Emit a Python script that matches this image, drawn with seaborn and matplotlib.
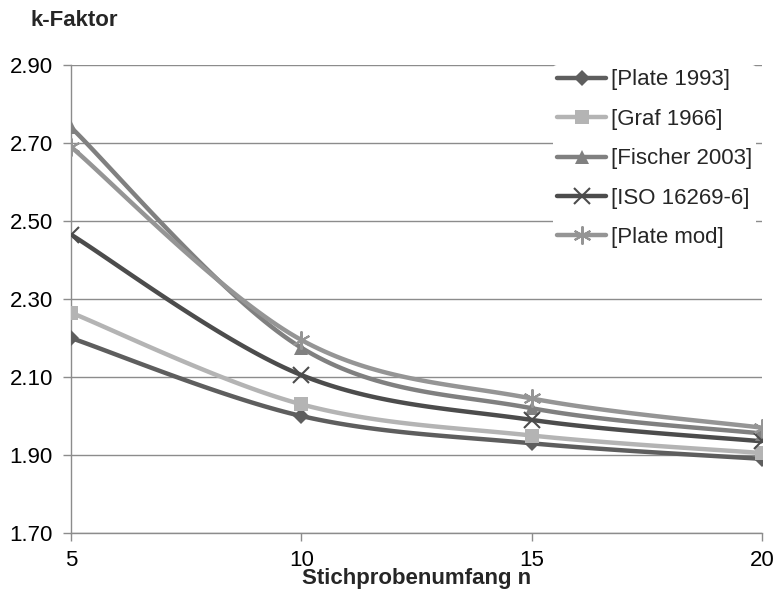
import numpy as np
import pandas as pd
import matplotlib
matplotlib.use("Agg")
import matplotlib.pyplot as plt
from matplotlib.lines import Line2D
import seaborn as sns

# Sample sizes and k-factors per source
n_values = [5, 10, 15, 20]
series_names = ["[Plate 1993]", "[Graf 1966]", "[Fischer 2003]", "[ISO 16269-6]", "[Plate mod]"]
plate_1993 = [2.20, 2.00, 1.93, 1.89]
graf_1966 = [2.265, 2.03, 1.95, 1.905]
fischer_2003 = [2.74, 2.175, 2.02, 1.955]
iso_16269_6 = [2.465, 2.105, 1.99, 1.935]
plate_mod = [2.69, 2.195, 2.045, 1.97]
y_ticks = [1.70, 1.90, 2.10, 2.30, 2.50, 2.70, 2.90]

values = [plate_1993, graf_1966, fischer_2003, iso_16269_6, plate_mod]
colors = ["#5e5e5e", "#b4b4b4", "#808080", "#4c4c4c", "#959595"]
markers = ["D", "s", "^", "x", (6, 2, 0)]
msizes = [8, 10, 10, 11, 13]

sns.set_theme(style="white")
plt.rcParams["font.family"] = ["Liberation Sans", "DejaVu Sans"]


def smooth_curve(xs, ys, steps=40):
    """Bezier smoothing through the points (Catmull-Rom style tangents)."""
    pts = np.column_stack([xs, ys]).astype(float)
    ext = np.vstack([pts[0], pts, pts[-1]])
    out = []
    for i in range(len(pts) - 1):
        p0, p1, p2, p3 = ext[i], ext[i + 1], ext[i + 2], ext[i + 3]
        c1 = p1 + (p2 - p0) / 6.0
        c2 = p2 - (p3 - p1) / 6.0
        t = np.linspace(0, 1, steps, endpoint=(i == len(pts) - 2))[:, None]
        seg = ((1 - t) ** 3) * p1 + 3 * ((1 - t) ** 2) * t * c1 + 3 * (1 - t) * t ** 2 * c2 + t ** 3 * p2
        out.append(seg)
    return np.vstack(out)


fig = plt.figure(figsize=(7.75, 5.92), dpi=100)
ax = fig.add_axes([71 / 775, 1 - 533 / 592, (762 - 71) / 775, (533 - 65) / 592])

grid_color = "#8c8c8c"
for yv in y_ticks:
    ax.axhline(yv, color=grid_color, lw=1.0, zorder=0)

for name, ys, col, mk, ms in zip(series_names, values, colors, markers, msizes):
    curve = smooth_curve(n_values, ys)
    cdf = pd.DataFrame({"n": curve[:, 0], "k": curve[:, 1]})
    sns.lineplot(data=cdf, x="n", y="k", ax=ax, color=col, lw=3.2, sort=False,
                 legend=False, zorder=2)
    pdf = pd.DataFrame({"n": n_values, "k": ys})
    filled = mk not in ("x", (6, 2, 0))
    ax.plot(pdf["n"], pdf["k"], linestyle="none", marker=mk, markersize=ms,
            color=col, markeredgewidth=1.5 if not filled else 0, zorder=3)

ax.set_xlim(5, 20)
ax.set_ylim(1.70, 2.90)
ax.set_xticks(n_values)
ax.set_xticklabels([str(v) for v in n_values])
ax.set_yticks(y_ticks)
ax.set_yticklabels([f"{v:.2f}" for v in y_ticks])

for side in ["top", "right"]:
    ax.spines[side].set_visible(False)
for side in ["left", "bottom"]:
    ax.spines[side].set_color(grid_color)
    ax.spines[side].set_linewidth(1.0)

ax.tick_params(axis="both", which="major", labelsize=16, colors="black",
               length=6, width=1.0, color=grid_color, direction="out",
               bottom=True, left=True)
ax.tick_params(axis="y", pad=7)
ax.tick_params(axis="x", pad=6)

ax.set_xlabel("Stichprobenumfang n", fontsize=16, fontweight="bold", labelpad=-2)
ax.set_ylabel("")
fig.text(30 / 775, 1 - 21 / 592, "k-Faktor", fontsize=16, fontweight="bold",
         ha="left", va="center")

handles = [
    Line2D([0], [0], color=col, lw=3.2, marker=mk, markersize=ms,
           markeredgewidth=1.5 if mk in ("x", (6, 2, 0)) else 0)
    for col, mk, ms in zip(colors, markers, msizes)
]
leg = ax.legend(handles, series_names, loc="upper left",
                bbox_to_anchor=((553 - 71) / (762 - 71), 1.0),
                fontsize=16, frameon=True, facecolor="white", edgecolor="none",
                framealpha=1.0, handlelength=2.2, handletextpad=0.2,
                labelspacing=0.83, borderpad=0.2, borderaxespad=0.0)
leg.set_zorder(5)

fig.savefig("out.png", dpi=100, facecolor="white")
